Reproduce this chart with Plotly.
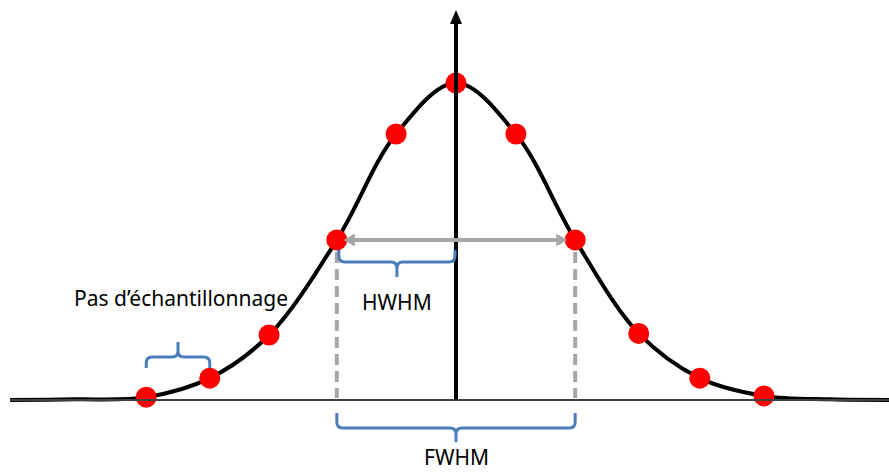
import plotly.graph_objects as go

# Sampled points (x in sample steps, y normalised to the peak)
sample_x = [-5.12, -4.07, -3.09, -1.97, -0.99, 0.0, 0.99, 1.97, 3.02, 4.03, 5.09]
sample_y = [0.009, 0.069, 0.205, 0.505, 0.839, 1.0, 0.839, 0.505, 0.210, 0.069, 0.013]

# Continuous curve (tails included)
curve_x = [-7.37, -6.3, -5.12, -4.07, -3.09, -1.97, -0.99, 0.0, 0.99, 1.97, 3.02, 4.03, 5.09, 6.2, 7.16]
curve_y = [0.0, 0.002, 0.009, 0.069, 0.205, 0.505, 0.839, 1.0, 0.839, 0.505, 0.210, 0.069, 0.013, 0.002, 0.0]

labels = ["Pas d\u2019échantillonnage", "HWHM", "FWHM"]

W, H = 889, 474
# pixel scale of the axes
PX_X = 60.5    # pixels per sample step
PX_Y = 317.0   # pixels per unit of amplitude
X0, Y0 = 456, 400  # pixel position of the origin
x_range = [(0 - X0) / PX_X, (W - X0) / PX_X]
y_range = [(Y0 - H) / PX_Y, (Y0 - 0) / PX_Y]


def dx(p):
    return p / PX_X


def dy(p):
    return p / PX_Y


BLUE = "#4a7ebb"
GRAY = "#a6a6a6"


def brace(xa, xb, ybar, end_px, tip_px, sign):
    # sign=-1 : ends above bar, tip below ; sign=+1 : ends below, tip above
    r = 6
    xm = (xa + xb) / 2
    ye = ybar - sign * dy(end_px)
    yt = ybar + sign * dy(tip_px)
    yr_e = ybar - sign * dy(r)
    yr_t = ybar + sign * dy(r)
    return (
        f"M {xa},{ye} L {xa},{yr_e} Q {xa},{ybar} {xa + dx(r)},{ybar} "
        f"L {xm - dx(r)},{ybar} Q {xm},{ybar} {xm},{yr_t} L {xm},{yt} "
        f"M {xm},{yr_t} Q {xm},{ybar} {xm + dx(r)},{ybar} "
        f"L {xb - dx(r)},{ybar} Q {xb},{ybar} {xb},{yr_e} L {xb},{ye}"
    )


fig = go.Figure()

fig.add_trace(go.Scatter(
    x=curve_x, y=curve_y, mode="lines",
    line=dict(color="black", width=4, shape="spline", smoothing=1.0),
    hoverinfo="skip",
))
fig.add_trace(go.Scatter(
    x=sample_x, y=sample_y, mode="markers",
    marker=dict(color="#ff0000", size=21, line=dict(width=0)),
))

shapes = []
# horizontal baseline
shapes.append(dict(type="line", x0=curve_x[0], x1=x_range[1], y0=0, y1=0,
                   line=dict(color="#404040", width=2)))
# vertical axis with arrow head
top = y_range[1] - dy(10)
shapes.append(dict(type="line", x0=0, x1=0, y0=0, y1=top - dy(12),
                   line=dict(color="black", width=4)))
shapes.append(dict(type="path",
                   path=f"M {-dx(6)},{top - dy(14)} L {dx(6)},{top - dy(14)} L 0,{top} Z",
                   fillcolor="black", line=dict(width=0)))

# half maximum points
xl, xr = sample_x[3], sample_x[7]
yh = (sample_y[3] + sample_y[7]) / 2
# gray double arrow
al, ar = xl + dx(7), xr - dx(8)
shapes.append(dict(type="line", x0=al + dx(8), x1=ar - dx(8), y0=yh, y1=yh,
                   line=dict(color=GRAY, width=4)))
shapes.append(dict(type="path",
                   path=f"M {al},{yh} L {al + dx(11)},{yh + dy(6.5)} L {al + dx(11)},{yh - dy(6.5)} Z",
                   fillcolor=GRAY, line=dict(width=0)))
shapes.append(dict(type="path",
                   path=f"M {ar},{yh} L {ar - dx(11)},{yh + dy(6.5)} L {ar - dx(11)},{yh - dy(6.5)} Z",
                   fillcolor=GRAY, line=dict(width=0)))
# dashed drops
for xv in (xl, xr):
    shapes.append(dict(type="line", x0=xv, x1=xv, y0=yh - dy(12), y1=dy(2),
                       line=dict(color=GRAY, width=4, dash="11px,6px")))

# braces
shapes.append(dict(type="path", path=brace(xl + dx(2), -dx(1), yh - dy(22), 12, 15, -1),
                   line=dict(color=BLUE, width=3)))
shapes.append(dict(type="path", path=brace(xl, xr, -dy(28), 15, 14, -1),
                   line=dict(color=BLUE, width=3)))
shapes.append(dict(type="path", path=brace(sample_x[0], sample_x[1], dy(43), 11, 15, 1),
                   line=dict(color=BLUE, width=3)))

fig.update_layout(shapes=shapes)

font = dict(family="Noto Sans, Lato, sans-serif", size=21, color="black")
ann = [
    dict(x=(72 + 290) / 2, y=298, text=labels[0], anchor="middle"),
    dict(x=397, y=302, text=labels[1], anchor="middle"),
    dict(x=456, y=473, text=labels[2], anchor="bottom"),
]
fig.update_layout(annotations=[
    dict(x=(a["x"] - X0) / PX_X, y=(Y0 - a["y"]) / PX_Y, text=a["text"],
         showarrow=False, xanchor="center", yanchor=a["anchor"], font=font)
    for a in ann
])

fig.update_layout(
    width=W, height=H, autosize=False,
    margin=dict(l=0, r=0, t=0, b=0),
    paper_bgcolor="white", plot_bgcolor="white",
    showlegend=False,
    xaxis=dict(range=x_range, visible=False, fixedrange=True),
    yaxis=dict(range=y_range, visible=False, fixedrange=True),
)

# drop the browser's default page margin so the figure sits at (0, 0)
fig.write_html("out.html", config={"displayModeBar": False},
               post_script="document.body.style.margin='0';")
